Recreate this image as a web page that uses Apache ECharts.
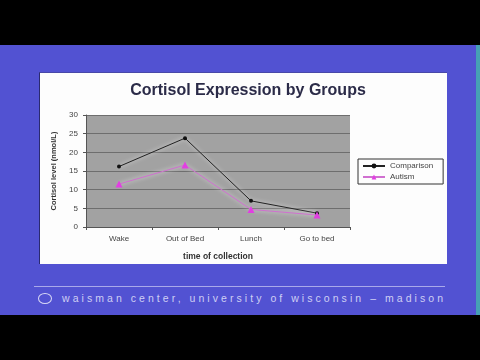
<!DOCTYPE html>
<html>
<head>
<meta charset="utf-8">
<script src="https://cdn.jsdelivr.net/npm/echarts@6/dist/echarts.min.js"></script>
<style>
html,body{margin:0;padding:0;width:480px;height:360px;overflow:hidden;background:#000;font-family:"Liberation Sans",Arial,sans-serif;}
#blue{position:absolute;left:0;top:45px;width:476px;height:270px;background:#5252d2;}
#strip{position:absolute;left:476px;top:45px;width:4px;height:270px;background:#46a0b4;}
#panel{position:absolute;left:39px;top:72px;width:408px;height:192px;background:#fdfdfd;border-left:1px solid #2a2a70;border-top:1px solid #4848a8;box-sizing:border-box;}
#rule{position:absolute;left:34px;top:286px;width:411px;height:1px;background:#a9a9ea;}
#foot{position:absolute;left:62px;top:292px;font-size:10.5px;letter-spacing:3.05px;color:#cfcff4;white-space:nowrap;}
#logo{position:absolute;left:38px;top:293px;width:14px;height:11px;border-radius:50%;border:1px solid #d8d8f6;box-sizing:border-box;}
#chart{position:absolute;left:0;top:0;width:480px;height:360px;}
</style>
</head>
<body>
<div id="blue"></div>
<div id="strip"></div>
<div id="panel"></div>
<div id="rule"></div>
<div id="logo"></div>
<div id="foot">waisman center, university of wisconsin – madison</div>
<div id="chart"></div>
<script>
const categories = ["Wake", "Out of Bed", "Lunch", "Go to bed"];
const comparison = [16.2, 23.8, 7.0, 3.7];
const autism = [11.5, 16.6, 4.7, 3.2];
const yTicks = [0, 5, 10, 15, 20, 25, 30];

const chart = echarts.init(document.getElementById('chart'), null, {renderer: 'canvas'});
chart.setOption({
  backgroundColor: 'transparent',
  animation: false,
  title: {
    text: 'Cortisol Expression by Groups',
    left: 243, top: 78, textAlign: 'center',
    textStyle: {fontSize: 16, fontWeight: 'bold', color: '#2b2b48', fontFamily: 'Liberation Sans'}
  },
  legend: {
    orient: 'vertical', left: 358, top: 159,
    borderColor: '#333', borderWidth: 1, padding: [3, 10, 3, 4], itemGap: 3,
    itemWidth: 22, itemHeight: 6,
    textStyle: {fontSize: 8, color: '#444', fontFamily: 'Liberation Sans'},
    data: ['Comparison', 'Autism']
  },
  grid: {left: 86, top: 115, width: 264, height: 112, show: true, backgroundColor: '#a2a2a2', borderWidth: 0},
  xAxis: {
    type: 'category', data: categories, boundaryGap: true,
    name: 'time of collection', nameLocation: 'middle', nameGap: 25,
    nameTextStyle: {fontSize: 8.5, fontWeight: 'bold', color: '#333', fontFamily: 'Liberation Sans'},
    axisLine: {show: true, lineStyle: {color: '#555', width: 1}},
    axisTick: {show: true, alignWithLabel: false, length: 3, lineStyle: {color: '#555'}},
    axisLabel: {fontSize: 8, color: '#444', margin: 8, fontFamily: 'Liberation Sans'}
  },
  yAxis: {
    type: 'value', min: yTicks[0], max: yTicks[yTicks.length - 1], interval: 5,
    name: 'Cortisol level (nmol/L)', nameLocation: 'middle', nameGap: 27, nameRotate: 90,
    nameTextStyle: {fontSize: 7.5, fontWeight: 'bold', color: '#333', fontFamily: 'Liberation Sans'},
    axisLine: {show: true, lineStyle: {color: '#555', width: 1}},
    axisTick: {show: true, length: 3, lineStyle: {color: '#555'}},
    axisLabel: {fontSize: 8, color: '#444', margin: 8, fontFamily: 'Liberation Sans'},
    splitLine: {show: true, lineStyle: {color: '#6e6e6e', width: 1}}
  },
  series: [
    {
      name: 'Comparison', type: 'line', data: comparison,
      symbol: 'circle', symbolSize: 4,
      itemStyle: {color: '#111'},
      lineStyle: {color: '#222', width: 1, shadowColor: 'rgba(255,255,255,0.9)', shadowBlur: 4}
    },
    {
      name: 'Autism', type: 'line', data: autism,
      symbol: 'triangle', symbolSize: 7,
      itemStyle: {color: '#e23ee2'},
      lineStyle: {color: '#d070d0', width: 1, shadowColor: 'rgba(255,255,255,0.9)', shadowBlur: 4}
    }
  ]
});
</script>
</body>
</html>
